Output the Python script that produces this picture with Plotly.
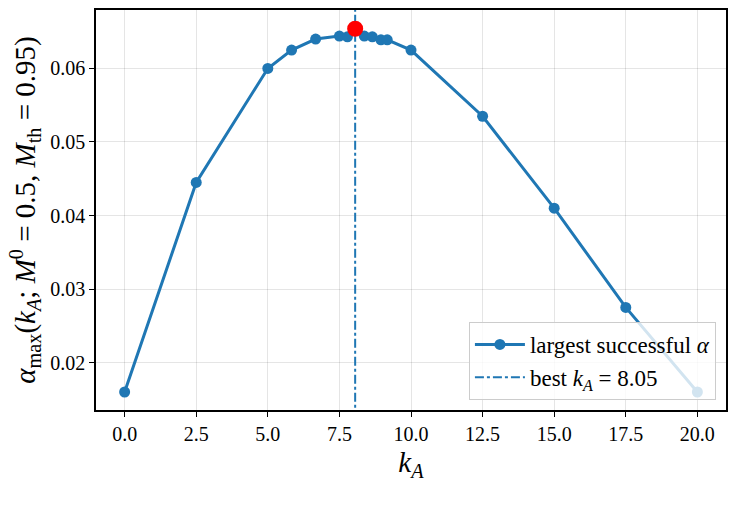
import plotly.graph_objects as go

k_vals = [0.0, 2.5, 5.0, 5.83, 6.67, 7.5, 7.78, 8.05, 8.37, 8.65, 8.95, 9.17, 10.0, 12.5, 15.0, 17.5, 20.0]
alpha_vals = [0.016, 0.0445, 0.0600, 0.0625, 0.0640, 0.0644, 0.0643, 0.0654, 0.0644, 0.0643, 0.0639, 0.0639, 0.0625, 0.0535, 0.0410, 0.0275, 0.0160]
best_k = 8.05
best_alpha = 0.0654

x_ticks = [0.0, 2.5, 5.0, 7.5, 10.0, 12.5, 15.0, 17.5, 20.0]
y_ticks = [0.02, 0.03, 0.04, 0.05, 0.06]

blue = "#1f77b4"
font_family = "Liberation Serif"

fig = go.Figure()
fig.add_trace(go.Scatter(
    x=k_vals, y=alpha_vals, mode="lines+markers",
    line=dict(color=blue, width=3),
    marker=dict(color=blue, size=11),
    name="largest successful <i>α</i>",
))
fig.add_trace(go.Scatter(
    x=[best_k, best_k], y=[0.0, 1.0], mode="lines",
    line=dict(color=blue, width=2, dash="dashdot"),
    name="best <i>k<sub>A</sub></i> = 8.05",
))
fig.add_trace(go.Scatter(
    x=[best_k], y=[best_alpha], mode="markers",
    marker=dict(color="red", size=16),
    showlegend=False,
))

axis_common = dict(
    showline=True, linecolor="black", linewidth=1.5, mirror=True,
    ticks="outside", ticklen=5, tickwidth=1.2, tickcolor="black",
    showgrid=True, gridcolor="rgba(0,0,0,0.1)", gridwidth=1,
    zeroline=False,
    tickfont=dict(family=font_family, size=20, color="black"),
)

fig.update_layout(
    width=736, height=508,
    margin=dict(l=96, r=9, t=8, b=98),
    paper_bgcolor="white", plot_bgcolor="white",
    font=dict(family=font_family, color="black"),
    xaxis=dict(
        range=[-1, 21], tickvals=x_ticks,
        ticktext=[f"{v:.1f}" for v in x_ticks],
        title=dict(text="<i>k<sub>A</sub></i>", font=dict(size=29), standoff=8),
        **axis_common,
    ),
    yaxis=dict(
        range=[0.01355, 0.06795], tickvals=y_ticks,
        ticktext=[f"{v:.2f}" for v in y_ticks],
        title=dict(text="<i>α</i><sub>max</sub>(<i>k<sub>A</sub></i>; <i>M</i><sup>0</sup> = 0.5, <i>M</i><sub>th</sub> = 0.95)",
                   font=dict(size=29), standoff=6),
        **axis_common,
    ),
    legend=dict(
        x=0.984, y=0.025, xanchor="right", yanchor="bottom",
        bgcolor="rgba(255,255,255,0.8)", bordercolor="#cccccc", borderwidth=1,
        font=dict(family=font_family, size=23, color="black"),
        itemwidth=50,
    ),
)

fig.write_html("out.html")
